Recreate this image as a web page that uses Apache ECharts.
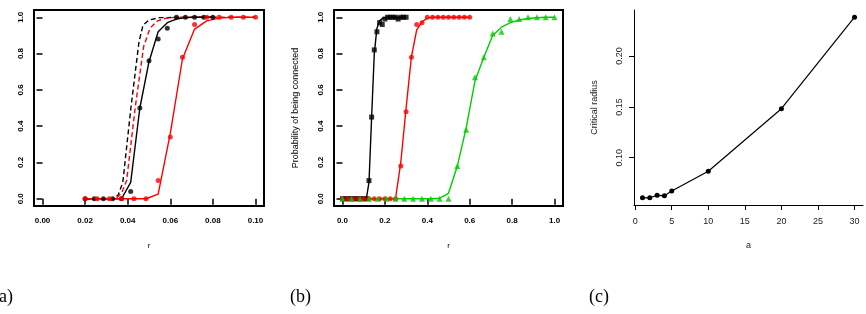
<!DOCTYPE html>
<html>
<head>
<meta charset="utf-8">
<script src="https://cdn.jsdelivr.net/npm/echarts@6/dist/echarts.min.js"></script>
<style>
  html, body { margin: 0; padding: 0; background: #fff; }
  #chart { width: 866px; height: 314px; }
</style>
</head>
<body>
<div id="chart"></div>
<script>
// (a) simulated probability of being connected vs r, with fitted curves
const aBlackR = [0.0200, 0.0243, 0.0286, 0.0329, 0.0371, 0.0414, 0.0457, 0.0500, 0.0543, 0.0586, 0.0629, 0.0671, 0.0714, 0.0757, 0.0800];
const aBlackP = [0, 0, 0, 0, 0, 0.04, 0.50, 0.76, 0.88, 0.94, 1, 1, 1, 1, 1];
const aBlackFit = [0, 0, 0, 0, 0, 0.09, 0.50, 0.755, 0.92, 0.97, 0.99, 0.998, 1, 1, 1];
const aRedR = [0.0200, 0.0257, 0.0314, 0.0371, 0.0429, 0.0486, 0.0543, 0.0600, 0.0657, 0.0714, 0.0771, 0.0829, 0.0886, 0.0943, 0.1000];
const aRedP = [0, 0, 0, 0, 0, 0, 0.10, 0.34, 0.78, 0.96, 1, 1, 1, 1, 1];
const aRedFit = [0, 0, 0, 0, 0, 0, 0.025, 0.36, 0.77, 0.935, 0.98, 0.995, 1, 1, 1];
const aBlackDashR = [0.0200, 0.0329, 0.0355, 0.0377, 0.0415, 0.0453, 0.0472, 0.0500, 0.0550, 0.0800];
const aBlackDash = [0, 0, 0.02, 0.09, 0.50, 0.865, 0.956, 0.985, 0.998, 1];
const aRedDashR = [0.0200, 0.0343, 0.0371, 0.0395, 0.0435, 0.0475, 0.0505, 0.0540, 0.0580, 0.0630, 0.1000];
const aRedDash = [0, 0, 0.03, 0.10, 0.50, 0.84, 0.94, 0.98, 0.995, 1, 1];

// (b) three point sets with fitted curves
const bBlackR = [0, 0.0125, 0.025, 0.0375, 0.05, 0.0625, 0.075, 0.0875, 0.1, 0.1125, 0.125, 0.1375, 0.15, 0.1625, 0.175, 0.1875, 0.2, 0.2125, 0.225, 0.2375, 0.25, 0.2625, 0.275, 0.2875, 0.3];
const bBlackP = [0, 0, 0, 0, 0, 0, 0, 0, 0, 0, 0.10, 0.45, 0.82, 0.92, 0.97, 0.96, 0.99, 1, 1, 1, 1, 0.99, 1, 1, 1];
const bBlackFit = [0, 0, 0, 0, 0, 0, 0, 0, 0, 0, 0.09, 0.45, 0.80, 0.94, 0.98, 0.993, 0.998, 1, 1, 1, 1, 1, 1, 1, 1];
const bRedR = [0, 0.025, 0.05, 0.075, 0.1, 0.125, 0.15, 0.175, 0.2, 0.225, 0.25, 0.275, 0.3, 0.325, 0.35, 0.375, 0.4, 0.425, 0.45, 0.475, 0.5, 0.525, 0.55, 0.575, 0.6];
const bRedP = [0, 0, 0, 0, 0, 0, 0, 0, 0, 0, 0, 0.18, 0.48, 0.78, 0.96, 0.97, 1, 1, 1, 1, 1, 1, 1, 1, 1];
const bRedFit = [0, 0, 0, 0, 0, 0, 0, 0, 0, 0, 0, 0.20, 0.50, 0.78, 0.93, 0.975, 0.995, 1, 1, 1, 1, 1, 1, 1, 1];
const bGreenR = [0, 0.0417, 0.0833, 0.125, 0.1667, 0.2083, 0.25, 0.2917, 0.3333, 0.375, 0.4167, 0.4583, 0.5, 0.5417, 0.5833, 0.625, 0.6667, 0.7083, 0.75, 0.7917, 0.8333, 0.875, 0.9167, 0.9583, 1];
const bGreenP = [0, 0, 0, 0, 0, 0, 0, 0, 0, 0, 0, 0, 0, 0.18, 0.38, 0.67, 0.78, 0.91, 0.92, 0.99, 0.99, 1, 1, 1, 1];
const bGreenFit = [0, 0, 0, 0, 0, 0, 0, 0, 0, 0, 0, 0.003, 0.03, 0.18, 0.39, 0.65, 0.78, 0.90, 0.945, 0.97, 0.985, 0.993, 0.997, 1, 1];

// (c) critical radius vs a
const cA = [1, 2, 3, 4, 5, 10, 20, 30];
const cRadius = [0.0605, 0.0605, 0.0629, 0.0626, 0.0671, 0.0866, 0.1482, 0.2383];

// tick labels
const abXTicksA = [0, 0.02, 0.04, 0.06, 0.08, 0.1];
const abXTicksB = [0, 0.2, 0.4, 0.6, 0.8, 1];
const probTicks = [0, 0.2, 0.4, 0.6, 0.8, 1];
const cXTicks = [0, 5, 10, 15, 20, 25, 30];
const cYTicks = [0.10, 0.15, 0.20];

const RED = "#ff0000";
const GREEN = "#00cd00";
const SANS = "Liberation Sans, Arial, sans-serif";

function pairs(xs, ys) {
  return xs.map((x, i) => [x, ys[i]]);
}

function boxedAxis(idx, min, max, ticks, fmt, isY) {
  return {
    type: "value",
    gridIndex: idx,
    min,
    max,
    axisLine: { show: false },
    splitLine: { show: false },
    axisTick: {
      show: true,
      length: 6,
      customValues: ticks,
      lineStyle: { color: "#000", width: 1.5 },
    },
    axisLabel: {
      customValues: ticks,
      formatter: fmt,
      rotate: isY ? 90 : 0,
      margin: isY ? 9 : 11,
      fontFamily: SANS,
      fontSize: 8,
      fontWeight: "bold",
      color: "#000",
    },
  };
}

function lineSeries(x, y, data, color, dashed) {
  return {
    type: "line",
    xAxisIndex: x,
    yAxisIndex: y,
    data,
    showSymbol: false,
    symbol: "none",
    silent: true,
    lineStyle: { color, width: 1.4, type: dashed ? [5, 3] : "solid" },
    z: 2,
  };
}

function pointSeries(x, y, data, color, symbol, size) {
  return {
    type: "scatter",
    xAxisIndex: x,
    yAxisIndex: y,
    data,
    symbol,
    symbolSize: size,
    itemStyle: { color },
    silent: true,
    z: 3,
  };
}

const f2 = (v) => v.toFixed(2);
const f1 = (v) => v.toFixed(1);

const chart = echarts.init(document.getElementById("chart"));

const xa = boxedAxis(0, -0.004, 0.104, abXTicksA, f2, false);
xa.name = "r";
const ya = boxedAxis(0, -0.04, 1.04, probTicks, f1, true);
ya.name = "Probability of being connected";
const xb = boxedAxis(1, -0.04, 1.04, abXTicksB, f1, false);
xb.name = "r";
const yb = boxedAxis(1, -0.04, 1.04, probTicks, f1, true);
yb.name = "Probability of being connected";

[xa, xb].forEach((ax) => {
  ax.nameLocation = "middle";
  ax.nameGap = 36;
  ax.nameTextStyle = { fontFamily: SANS, fontSize: 8, color: "#000" };
});
[ya, yb].forEach((ax) => {
  ax.nameLocation = "middle";
  ax.nameGap = 34;
  ax.nameTextStyle = { fontFamily: SANS, fontSize: 9, color: "#000" };
});

const cTextStyle = { fontFamily: SANS, fontSize: 9, color: "#222" };

chart.setOption({
  animation: false,
  backgroundColor: "#fff",
  grid: [
    { left: 34, top: 10, width: 230, height: 196, outerBoundsMode: "none", show: true, borderColor: "#000", borderWidth: 2, backgroundColor: "transparent" },
    { left: 334, top: 10, width: 229, height: 196, outerBoundsMode: "none", show: true, borderColor: "#000", borderWidth: 2, backgroundColor: "transparent" },
    { left: 634, top: 10, width: 229, height: 195, outerBoundsMode: "none" },
  ],
  xAxis: [
    xa,
    xb,
    {
      type: "value",
      gridIndex: 2,
      min: -0.16,
      max: 31.16,
      name: "a",
      nameLocation: "middle",
      nameGap: 36,
      nameTextStyle: cTextStyle,
      axisLine: { show: true, onZero: false, lineStyle: { color: "#000", width: 1 } },
      splitLine: { show: false },
      axisTick: { show: true, length: 5, customValues: cXTicks, lineStyle: { color: "#000" } },
      axisLabel: { customValues: cXTicks, margin: 12, ...cTextStyle },
    },
  ],
  yAxis: [
    ya,
    yb,
    {
      type: "value",
      gridIndex: 2,
      min: 0.0534,
      max: 0.2454,
      name: "Critical radius",
      nameLocation: "middle",
      nameGap: 35,
      nameTextStyle: cTextStyle,
      axisLine: { show: true, onZero: false, lineStyle: { color: "#000", width: 1 } },
      splitLine: { show: false },
      axisTick: { show: true, length: 5, customValues: cYTicks, lineStyle: { color: "#000" } },
      axisLabel: { customValues: cYTicks, formatter: f2, rotate: 90, margin: 10, ...cTextStyle },
    },
  ],
  graphic: [
    { type: "text", left: -7, top: 288, style: { text: "(a)", font: "18px 'Liberation Serif', serif", fill: "#000" } },
    { type: "text", left: 290, top: 288, style: { text: "(b)", font: "18px 'Liberation Serif', serif", fill: "#000" } },
    { type: "text", left: 589, top: 288, style: { text: "(c)", font: "18px 'Liberation Serif', serif", fill: "#000" } },
  ],
  series: [
    // panel (a)
    lineSeries(0, 0, pairs(aBlackDashR, aBlackDash), "#000", true),
    lineSeries(0, 0, pairs(aRedDashR, aRedDash), RED, true),
    lineSeries(0, 0, pairs(aBlackR, aBlackFit), "#000", false),
    lineSeries(0, 0, pairs(aRedR, aRedFit), RED, false),
    pointSeries(0, 0, pairs(aBlackR, aBlackP), "#000", "circle", 5),
    pointSeries(0, 0, pairs(aRedR, aRedP), RED, "circle", 5),
    // panel (b)
    lineSeries(1, 1, pairs(bBlackR, bBlackFit), "#000", false),
    pointSeries(1, 1, pairs(bBlackR, bBlackP), "#000", "rect", 5),
    lineSeries(1, 1, pairs(bRedR, bRedFit), RED, false),
    pointSeries(1, 1, pairs(bRedR, bRedP), RED, "circle", 5),
    lineSeries(1, 1, pairs(bGreenR, bGreenFit), GREEN, false),
    pointSeries(1, 1, pairs(bGreenR, bGreenP), GREEN, "triangle", 6),
    // panel (c)
    {
      type: "line",
      xAxisIndex: 2,
      yAxisIndex: 2,
      data: pairs(cA, cRadius),
      symbol: "circle",
      symbolSize: 5,
      showAllSymbol: true,
      silent: true,
      lineStyle: { color: "#000", width: 1.2 },
      itemStyle: { color: "#000" },
    },
  ],
});

window.addEventListener("resize", () => chart.resize());
</script>
</body>
</html>
